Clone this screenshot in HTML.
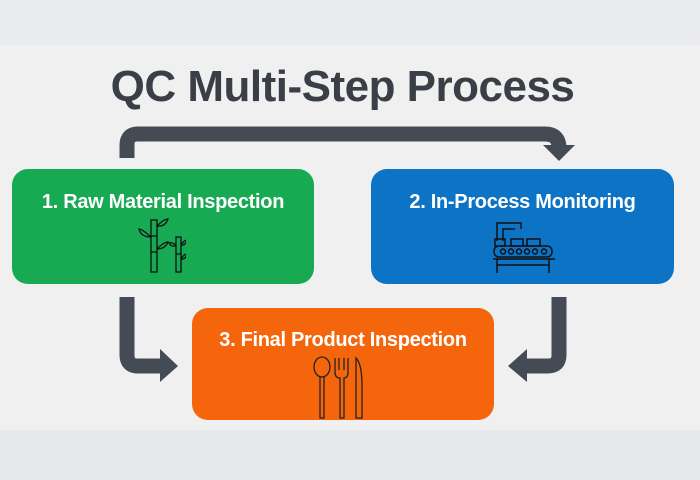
<!DOCTYPE html>
<html><head><meta charset="utf-8"><style>
body{margin:0;width:700px;height:480px;overflow:hidden;background:#f0f0f0;font-family:"Liberation Sans",sans-serif;position:relative}
.band1{position:absolute;left:0;top:0;width:700px;height:45px;background:#e9ebee}
.band2{position:absolute;left:0;top:430px;width:700px;height:50px;background:#e6e8ec}
.title{position:absolute;left:0;width:685px;top:62px;text-align:center;font-size:44px;font-weight:bold;color:#3a3f47;letter-spacing:-0.5px}
.box{position:absolute;border-radius:16px;color:#fff;font-weight:bold;font-size:20px;text-align:center;letter-spacing:-0.3px}
</style></head><body>
<div class="band1"></div><div class="band2"></div>
<div class="title">QC Multi-Step Process</div>
<svg width="700" height="480" style="position:absolute;left:0;top:0">
<g fill="none" stroke="#444b54" stroke-width="15">
<path d="M127 158 V145 Q127 134 138 134 H545 Q559 134 559 148"/>
<path d="M127 297 V355 Q127 366 138 366 H162"/>
<path d="M559 297 V355 Q559 366 548 366 H525"/>
</g>
<g fill="#444b54">
<polygon points="543,145 575,145 559,161"/>
<polygon points="160,349 178,366 160,382"/>
<polygon points="527,349 508,366 527,382"/>
</g>
</svg>
<div class="box" style="left:12px;top:169px;width:302px;height:115px;background:#17aa53"><div style="margin-top:22px">1. Raw Material Inspection</div>
<svg width="48" height="58" style="position:absolute;left:126px;top:48px" fill="none" stroke="#111" stroke-width="1.3"><rect x="13" y="3" width="6" height="52"/><line x1="13" y1="19" x2="19" y2="19"/><line x1="13" y1="35" x2="19" y2="35"/><rect x="38" y="20" width="5" height="35"/><line x1="38" y1="37" x2="43" y2="37"/><path d="M13 20 Q4 12 1 12 Q3 20 13 20"/><path d="M19 9 Q26 2 30 2 Q27 10 19 9"/><path d="M19 32 Q26 25 30 25 Q27 32 19 32"/><path d="M43 28 Q46 23 49 23 Q47 29 43 28"/><path d="M43 42 Q46 37 49 37 Q47 43 43 42"/><path d="M38 28 Q34 25 31 26 Q34 31 38 28"/></svg></div>
<div class="box" style="left:371px;top:169px;width:303px;height:115px;background:#0c73c5"><div style="margin-top:22px">2. In-Process Monitoring</div>
<svg width="62" height="54" style="position:absolute;left:122px;top:52px" fill="none" stroke="#111" stroke-width="1.5"><path d="M4 20 V2 H28 V8 M10 20 V8 H22"/><rect x="2" y="18" width="10" height="7"/><rect x="18" y="18" width="12" height="7"/><rect x="34" y="18" width="13" height="7"/><rect x="1" y="25" width="58" height="11" rx="5"/><circle cx="10" cy="30.5" r="2.5"/><circle cx="18" cy="30.5" r="2.5"/><circle cx="26" cy="30.5" r="2.5"/><circle cx="34" cy="30.5" r="2.5"/><circle cx="42" cy="30.5" r="2.5"/><circle cx="51" cy="30.5" r="2.5"/><path d="M0 38 H62 M4 38 V52 M56 38 V52 M4 44 H56"/></svg></div>
<div class="box" style="left:192px;top:308px;width:302px;height:112px;background:#f5650c"><div style="margin-top:21px">3. Final Product Inspection</div>
<svg width="56" height="64" style="position:absolute;left:120px;top:48px" fill="none" stroke="#222" stroke-width="1.3"><ellipse cx="10" cy="11" rx="8" ry="10"/><path d="M8 21 V62 H12 V21"/><path d="M23 2 V16 Q23 22 28 22 V62 H32 V22 Q36 22 36 16 V2 M27 2 V14 M32 2 V14"/><path d="M44 62 V2 Q50 8 50 30 V62 Z"/></svg></div>
</body></html>
